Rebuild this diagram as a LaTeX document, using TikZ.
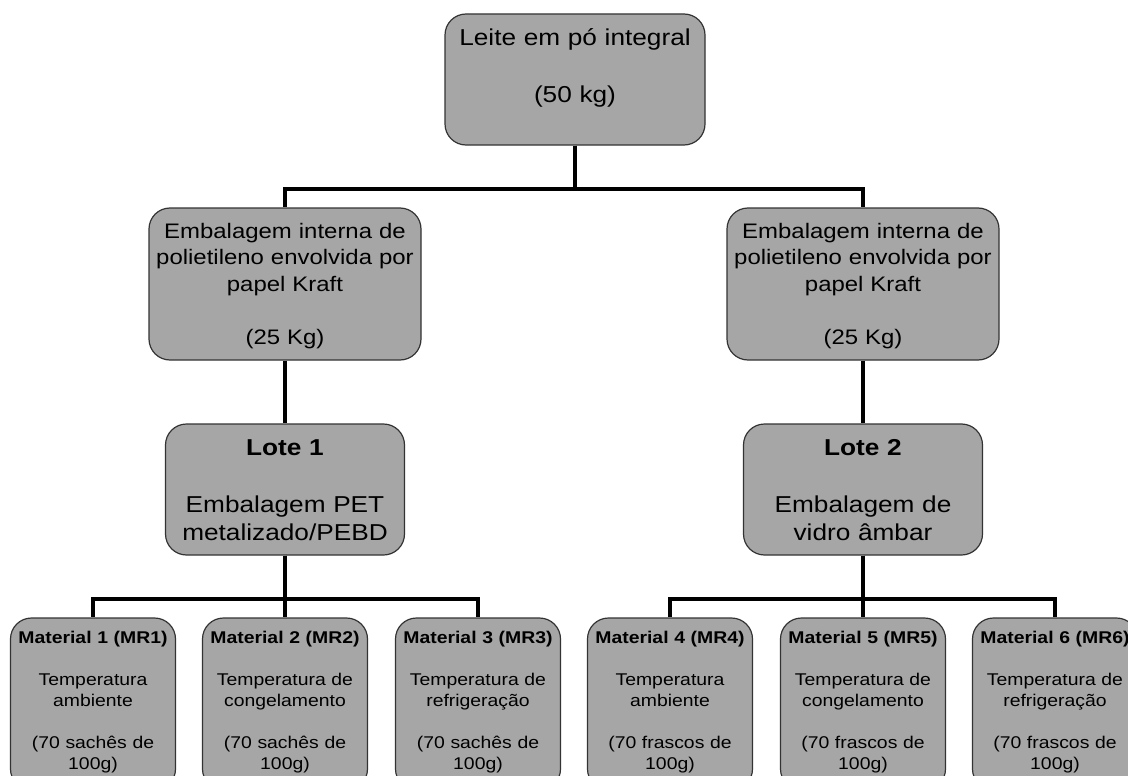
\documentclass[tikz,border=0pt]{standalone}
\usepackage{fontspec}
\setmainfont{Liberation Sans}[FakeStretch=1.14]
\definecolor{cinza}{RGB}{166,166,166}
\tikzset{
  caixa/.style={draw=black!80, fill=cinza, line width=1.2pt, rounded corners=21pt,
    align=center, inner sep=0pt, anchor=base},
  ligacao/.style={line width=4pt},
}

\begin{document}
\begin{tikzpicture}[x=1pt,y=-1pt]
\useasboundingbox (0,0) rectangle (1128,776);
\clip (0,0) rectangle (1128,776);
\node[caixa, text width=260pt, text height=32pt, text depth=99pt,
  font=\fontsize{23}{28.5}\selectfont] (leite) at (575,46) {Leite em pó integral\\[28.5pt](50 kg)};
\foreach \n/\x in {1/285,2/863} {
  \node[caixa, text width=272pt, text height=30pt, text depth=122pt,
    font=\fontsize{21}{26.5}\selectfont] (emb\n) at (\x,238)
    {Embalagem interna de\\polietileno envolvida por\\papel Kraft\\[26.5pt](25 Kg)};
}
\node[caixa, text width=239pt, text height=31pt, text depth=100pt,
  font=\fontsize{23}{28.5}\selectfont] (lote1) at (285,455)
  {\textbf{Lote 1}\\[28.5pt]Embalagem PET\\metalizado/PEBD};
\node[caixa, text width=239pt, text height=31pt, text depth=100pt,
  font=\fontsize{23}{28.5}\selectfont] (lote2) at (863,455)
  {\textbf{Lote 2}\\[28.5pt]Embalagem de\\vidro âmbar};
\foreach \n/\x/\temp/\emb in {1/93/{Temperatura\\ambiente}/sachês,
    2/285/{Temperatura de\\congelamento}/sachês,
    3/478/{Temperatura de\\refrigeração}/sachês,
    4/670/{Temperatura\\ambiente}/frascos,
    5/863/{Temperatura de\\congelamento}/frascos,
    6/1055/{Temperatura de\\refrigeração}/frascos} {
  \node[caixa, text width=165pt, text height=25pt, text depth=147pt,
    font=\fontsize{17}{21}\selectfont] (mat\n) at (\x,643)
    {\textbf{Material \n\ (MR\n)}\\[21pt]\temp\\[21pt](70 \emb\ de\\100g)};
}
\draw[ligacao] (leite.south) -- +(0,43) -| (emb1.north);
\draw[ligacao] (leite.south) -- +(0,43) -| (emb2.north);
\foreach \n in {1,2}
  \draw[ligacao] (emb\n.south) -- (lote\n.north);
\foreach \m in {1,2,3}
  \draw[ligacao] (lote1.south) -- +(0,43) -| (mat\m.north);
\foreach \m in {4,5,6}
  \draw[ligacao] (lote2.south) -- +(0,43) -| (mat\m.north);
\end{tikzpicture}
\end{document}
